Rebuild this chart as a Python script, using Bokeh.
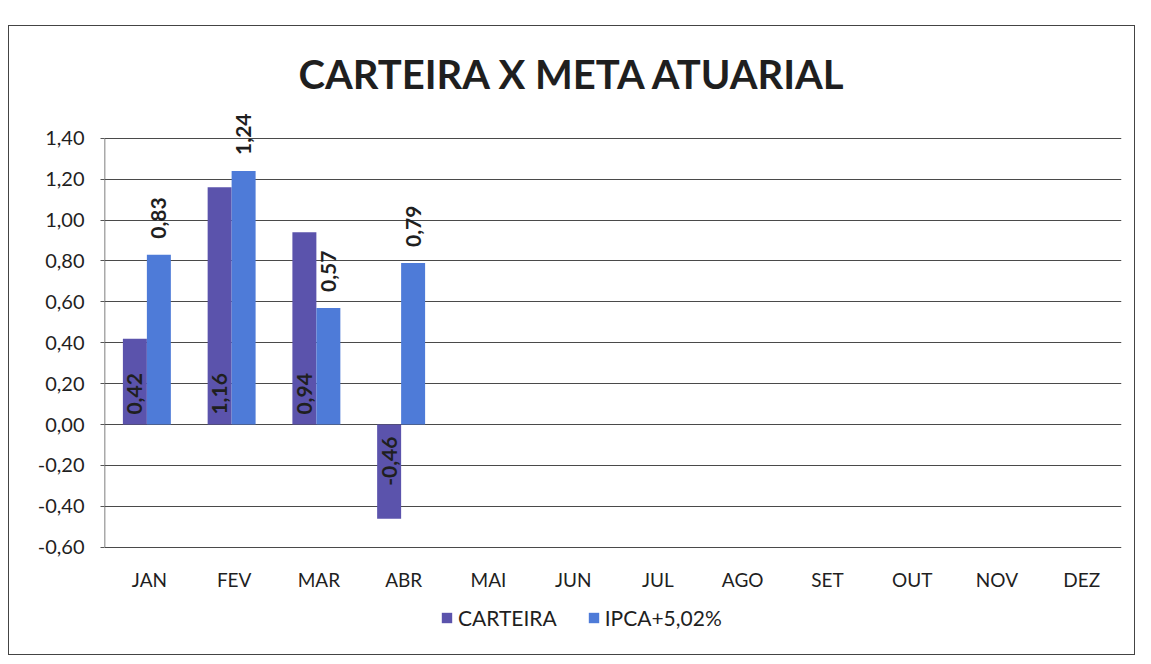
import numpy as np
from bokeh.plotting import figure
from bokeh.models import ColumnDataSource, FactorRange, FixedTicker, LabelSet, Legend, LegendItem
from bokeh.transform import dodge
from bokeh.core.properties import value
from bokeh.embed import file_html
from bokeh.resources import INLINE

months = ["JAN", "FEV", "MAR", "ABR", "MAI", "JUN", "JUL", "AGO", "SET", "OUT", "NOV", "DEZ"]
carteira = [0.42, 1.16, 0.94, -0.46]
ipca = [0.83, 1.24, 0.57, 0.79]
yticks = [-0.60, -0.40, -0.20, 0.00, 0.20, 0.40, 0.60, 0.80, 1.00, 1.20, 1.40]

FONT = "Lato"
C_CART = "#5B53AC"
C_IPCA = "#4E7BD8"
TXT = "#1f1f1f"

def fmt(v):
    return f"{v:.2f}".replace(".", ",")

# value range shown with extra room: above for labels, below for category names + legend
Y_LO, Y_HI = -1.08, 1.55
CAT_Y = -0.755

src_c = ColumnDataSource(dict(m=months[:len(carteira)], v=carteira))
src_i = ColumnDataSource(dict(m=months[:len(ipca)], v=ipca, t=[fmt(v) for v in ipca]))

p = figure(x_range=FactorRange(*months), y_range=(Y_LO, Y_HI),
           width=1127, height=630, output_backend="svg", toolbar_location=None,
           min_border_left=95, min_border_right=15, min_border_top=81, min_border_bottom=11)

p.title.text = "CARTEIRA X META ATUARIAL"
p.title.text_font = FONT
p.title.text_font_size = "40px"
p.title.text_font_style = "bold"
p.title.text_color = TXT
p.title.align = "left"
p.title.offset = 194
p.title.standoff = 19

p.outline_line_color = None
p.background_fill_color = "white"

w = 0.283
r1 = p.vbar(x=dodge("m", -w / 2, range=p.x_range), top="v", width=w, source=src_c,
            fill_color=C_CART, line_color=None)
r2 = p.vbar(x=dodge("m", w / 2, range=p.x_range), top="v", width=w, source=src_i,
            fill_color=C_IPCA, line_color=None)

# y-axis line only over the tick span
axsrc = ColumnDataSource(dict(m=[months[0]], y0=[min(yticks)], y1=[max(yticks)]))
p.segment(x0=dodge("m", -0.5, range=p.x_range), x1=dodge("m", -0.5, range=p.x_range),
          y0="y0", y1="y1", source=axsrc, line_color="#555555", line_width=1.5)

# category names
catsrc = ColumnDataSource(dict(m=months, y=[CAT_Y] * len(months)))
p.text(x=dodge("m", 0.03, range=p.x_range), y="y", text="m", source=catsrc,
       text_align="center", text_baseline="middle", text_font=value(FONT),
       text_font_size="19px", text_color=TXT)

pos_idx = [i for i, v in enumerate(carteira) if v >= 0]
neg_idx = [i for i, v in enumerate(carteira) if v < 0]
src_cp = ColumnDataSource(dict(m=[months[i] for i in pos_idx], y=[0.0] * len(pos_idx),
                               t=[fmt(carteira[i]) for i in pos_idx]))
src_cn = ColumnDataSource(dict(m=[months[i] for i in neg_idx], y=[0.0] * len(neg_idx),
                               t=[fmt(carteira[i]) for i in neg_idx]))
common = dict(angle=np.pi / 2, text_baseline="middle", text_font=value(FONT),
              text_font_size="21px", text_font_style="bold", text_color=TXT)
lab_cp = LabelSet(x=dodge("m", -w / 2, range=p.x_range), y="y", text="t", source=src_cp,
                  text_align="left", y_offset=10, **common)
lab_cn = LabelSet(x=dodge("m", -w / 2, range=p.x_range), y="y", text="t", source=src_cn,
                  text_align="right", y_offset=-12, **common)
lab_i = LabelSet(x=dodge("m", w / 2, range=p.x_range), y="v", text="t", source=src_i,
                 text_align="left", y_offset=16, **common)
p.add_layout(lab_cp)
p.add_layout(lab_cn)
p.add_layout(lab_i)

p.yaxis.ticker = FixedTicker(ticks=yticks)
p.yaxis.major_label_overrides = {t: fmt(t) for t in yticks}
p.yaxis.major_label_text_font = FONT
p.yaxis.major_label_text_font_size = "20px"
p.yaxis.major_label_text_color = TXT
p.yaxis.axis_line_color = None
p.yaxis.major_tick_line_color = "#555555"
p.yaxis.major_tick_in = 0
p.yaxis.major_tick_out = 4
p.yaxis.minor_tick_line_color = None
p.yaxis.major_label_standoff = 16

p.xaxis.visible = False
p.xgrid.grid_line_color = None
p.ygrid.grid_line_color = "#4a4a4a"
p.ygrid.grid_line_width = 1.2

legend = Legend(items=[LegendItem(label="CARTEIRA", renderers=[r1]),
                       LegendItem(label="IPCA+5,02%", renderers=[r2])],
                orientation="horizontal", location=(336, 15),
                label_text_font=FONT, label_text_font_size="21px",
                label_text_color=TXT, glyph_width=13, glyph_height=13,
                spacing=30, label_standoff=5, border_line_color=None,
                background_fill_alpha=0, padding=6)
p.add_layout(legend, "center")

p.styles = {"border": "1.5px solid #444444", "margin-top": "25px", "margin-left": "8px"}

open("out.html", "w").write(file_html(p, INLINE))
